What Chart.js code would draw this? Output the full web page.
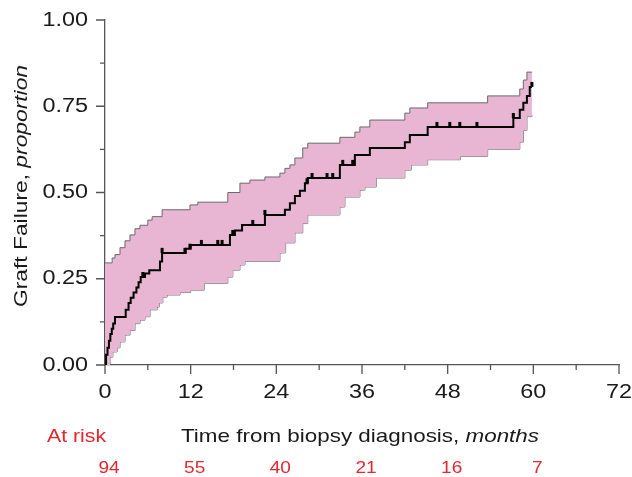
<!DOCTYPE html>
<html lang="en">
<head>
  <meta charset="UTF-8">
  <title>Graft failure</title>
  <script src="https://cdn.jsdelivr.net/npm/chart.js"></script>
  <style>
    body { margin: 0; background: #fff; }
    #wrap { width: 632px; height: 477px; position: relative; }
  </style>
</head>
<body>
  <div id="wrap"><canvas id="kmChart"></canvas></div>

  <script>
    // Kaplan-Meier cumulative failure (months, proportion)
    const kmMonths  = [0, 0.15, 0.35, 0.55, 0.75, 0.95, 1.15, 1.4, 2.9, 3.3, 3.6, 4.0, 4.4, 4.7, 5.0, 5.6, 6.2, 7.7, 8.0, 11.3, 12.0, 17.5, 18.2, 19.2, 22.4, 25.2, 25.9, 26.6, 27.3, 28.0, 28.4, 32.9, 35.0, 37.1, 42.0, 42.7, 45.2, 57.2, 58.1, 58.6, 59.1, 59.5, 59.8];
    const kmFailure = [0, 0.03, 0.05, 0.07, 0.09, 0.105, 0.12, 0.139, 0.16, 0.18, 0.195, 0.21, 0.225, 0.24, 0.255, 0.265, 0.275, 0.30, 0.325, 0.337, 0.348, 0.377, 0.39, 0.406, 0.435, 0.45, 0.469, 0.49, 0.505, 0.527, 0.542, 0.58, 0.609, 0.629, 0.646, 0.667, 0.69, 0.716, 0.74, 0.76, 0.78, 0.806, 0.806];

    // confidence band
    const upperMonths  = [0, 1.0, 1.4, 2.1, 2.8, 3.5, 4.2, 4.9, 6.0, 6.6, 8.0, 11.9, 13.0, 17.2, 18.9, 20.3, 22.4, 24.5, 25.2, 25.9, 26.6, 27.7, 28.4, 32.9, 35.0, 35.7, 37.1, 42.0, 42.7, 45.2, 53.6, 58.1, 58.6, 59.1, 59.8];
    const upperFailure = [0.296, 0.31, 0.32, 0.34, 0.36, 0.377, 0.395, 0.405, 0.42, 0.43, 0.45, 0.464, 0.472, 0.50, 0.527, 0.536, 0.545, 0.556, 0.57, 0.58, 0.60, 0.629, 0.643, 0.66, 0.675, 0.69, 0.71, 0.73, 0.745, 0.76, 0.78, 0.80, 0.826, 0.849, 0.849];
    const lowerMonths  = [0, 0.7, 1.1, 1.7, 2.1, 2.8, 3.5, 4.2, 4.9, 5.6, 6.3, 7.3, 7.6, 8.1, 8.7, 10.5, 12.0, 13.9, 17.2, 17.9, 18.9, 19.6, 24.5, 25.3, 26.6, 27.7, 28.4, 32.9, 33.6, 35.7, 36.4, 38.0, 42.0, 42.9, 45.2, 49.8, 53.6, 58.1, 58.6, 59.1, 59.8];
    const lowerFailure = [0, 0.023, 0.038, 0.05, 0.067, 0.087, 0.10, 0.12, 0.13, 0.14, 0.16, 0.168, 0.18, 0.197, 0.203, 0.21, 0.217, 0.237, 0.255, 0.275, 0.29, 0.30, 0.325, 0.354, 0.383, 0.41, 0.435, 0.458, 0.487, 0.507, 0.516, 0.542, 0.565, 0.58, 0.595, 0.605, 0.625, 0.646, 0.68, 0.72, 0.725];

    // censored observations
    const censorMonths = [5.3, 8.0, 11.2, 11.9, 13.5, 15.8, 16.4, 17.9, 20.7, 22.4, 28.3, 29.0, 31.1, 31.9, 33.3, 34.7, 46.5, 48.3, 49.7, 52.1, 57.2, 59.8];

    const xTickValues = [0, 12, 24, 36, 48, 60, 72];
    const xTickLabels = ["0", "12", "24", "36", "48", "60", "72"];
    const yTickValues = [0, 0.25, 0.5, 0.75, 1];
    const yTickLabels = ["0.00", "0.25", "0.50", "0.75", "1.00"];
    const atRiskMonths = [0, 12, 24, 36, 48, 60];
    const atRiskCounts = [94, 55, 40, 21, 16, 7];

    const FONT = "'Liberation Sans', Arial, sans-serif";
    const RED = "#e3262f";
    const INK = "#1a1a1a";
    const STRETCH = 1.17; // the original lettering is a bit wide

    const toPoints = (xs, ys) => xs.map((x, i) => ({ x: x, y: ys[i] }));

    function kmAt(t) {
      let v = 0;
      for (let i = 0; i < kmMonths.length; i++) {
        if (kmMonths[i] <= t) v = kmFailure[i];
      }
      return v;
    }

    // draws text (possibly several font parts) widened horizontally
    function wideText(ctx, parts, x, y, align, sx) {
      let w = 0;
      parts.forEach(p => { ctx.font = p.font; w += ctx.measureText(p.text).width; });
      let start = 0;
      if (align === "center") start = -w / 2;
      if (align === "right") start = -w;
      ctx.save();
      ctx.translate(x, y);
      ctx.scale(sx, 1);
      ctx.textAlign = "left";
      let cx = start;
      parts.forEach(p => {
        ctx.font = p.font;
        ctx.fillText(p.text, cx, 0);
        cx += ctx.measureText(p.text).width;
      });
      ctx.restore();
    }

    // tick marks (major + minor) drawn outward from the axes
    const tickMarks = {
      id: "tickMarks",
      afterDraw(chart) {
        const ctx = chart.ctx;
        const xs = chart.scales.x, ys = chart.scales.y;
        const area = chart.chartArea;
        ctx.save();
        ctx.strokeStyle = "#555";
        ctx.lineWidth = 1.3;
        ctx.beginPath();
        for (let m = 0; m <= 72; m += 6) {
          const px = xs.getPixelForValue(m);
          const len = m % 12 === 0 ? 9 : 5;
          ctx.moveTo(px, area.bottom);
          ctx.lineTo(px, area.bottom + len);
        }
        for (let k = 0; k <= 8; k++) {
          const py = ys.getPixelForValue(k * 0.125);
          const len = k % 2 === 0 ? 9 : 5;
          ctx.moveTo(area.left, py);
          ctx.lineTo(area.left - len, py);
        }
        ctx.stroke();
        ctx.restore();
      }
    };

    // censor ticks sitting on the KM line
    const censorMarks = {
      id: "censorMarks",
      afterDatasetsDraw(chart) {
        const ctx = chart.ctx;
        const xs = chart.scales.x, ys = chart.scales.y;
        ctx.save();
        ctx.fillStyle = "#000";
        censorMonths.forEach(t => {
          const px = xs.getPixelForValue(t);
          const py = ys.getPixelForValue(kmAt(t));
          ctx.fillRect(px - 1.5, py - 5, 3, 5);
        });
        ctx.restore();
      }
    };

    // tick labels, axis titles and the at-risk row
    const labels = {
      id: "labels",
      afterDraw(chart) {
        const ctx = chart.ctx;
        const xs = chart.scales.x, ys = chart.scales.y;
        const area = chart.chartArea;
        ctx.save();
        ctx.textBaseline = "middle";
        ctx.fillStyle = INK;
        const tickFont = "20px " + FONT;

        xTickValues.forEach((v, i) => {
          wideText(ctx, [{ text: xTickLabels[i], font: tickFont }], xs.getPixelForValue(v), area.bottom + 27, "center", STRETCH);
        });
        yTickValues.forEach((v, i) => {
          wideText(ctx, [{ text: yTickLabels[i], font: tickFont }], area.left - 17, ys.getPixelForValue(v), "right", STRETCH);
        });

        ctx.save();
        ctx.translate(22, 186);
        ctx.rotate(-Math.PI / 2);
        wideText(ctx, [
          { text: "Graft Failure, ", font: "19px " + FONT },
          { text: "proportion", font: "italic 19px " + FONT }
        ], 0, 0, "center", 1.2);
        ctx.restore();

        wideText(ctx, [
          { text: "Time from biopsy diagnosis, ", font: "19px " + FONT },
          { text: "months", font: "italic 19px " + FONT }
        ], 181, 437, "left", 1.18);

        ctx.fillStyle = RED;
        wideText(ctx, [{ text: "At risk", font: "19px " + FONT }], 47, 437, "left", 1.12);

        atRiskMonths.forEach((m, i) => {
          wideText(ctx, [{ text: String(atRiskCounts[i]), font: "17px " + FONT }], xs.getPixelForValue(m) + 4, 468, "center", 1.12);
        });
        ctx.restore();
      }
    };

    const ctx = document.getElementById("kmChart").getContext("2d");
    new Chart(ctx, {
      type: "line",
      data: {
        datasets: [
          {
            label: "Graft failure",
            data: toPoints(kmMonths, kmFailure),
            borderColor: "#000",
            borderWidth: 2,
            stepped: true,
            pointRadius: 0,
            fill: false,
            order: 0
          },
          {
            label: "Upper",
            data: toPoints(upperMonths, upperFailure),
            borderColor: "#6a6a6a",
            borderWidth: 1,
            stepped: true,
            pointRadius: 0,
            backgroundColor: "#e8b6d3",
            fill: 2,
            order: 1
          },
          {
            label: "Lower",
            data: toPoints(lowerMonths, lowerFailure),
            borderColor: "#6a6a6a",
            borderWidth: 1,
            stepped: true,
            pointRadius: 0,
            fill: false,
            order: 2
          }
        ]
      },
      options: {
        responsive: true,
        maintainAspectRatio: false,
        animation: false,
        layout: { padding: { top: 20, right: 13, left: 0, bottom: 0 } },
        plugins: {
          legend: { display: false },
          tooltip: { enabled: false }
        },
        scales: {
          x: {
            type: "linear",
            min: 0,
            max: 72,
            grid: { display: false },
            border: { display: true, color: "#555", width: 1.3 },
            ticks: { display: false, stepSize: 12 },
            afterFit: s => { s.height = 112; }
          },
          y: {
            min: 0,
            max: 1,
            grid: { display: false },
            border: { display: true, color: "#555", width: 1.3 },
            ticks: { display: false, stepSize: 0.25 },
            afterFit: s => { s.width = 105; }
          }
        }
      },
      plugins: [tickMarks, censorMarks, labels]
    });
  </script>
</body>
</html>
